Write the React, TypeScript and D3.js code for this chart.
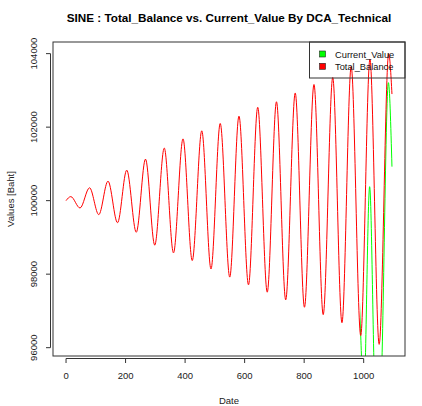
import React from "react";
import * as d3 from "d3";

// Extrema of the Total_Balance curve (date, value)
const dates = [0, 16, 47, 79, 110, 141, 173, 204, 236, 267, 298, 330, 361, 393, 424, 456, 487, 518, 550, 581, 613, 644, 676, 707, 738, 770, 801, 833, 864, 896, 927, 958, 990, 1021, 1052, 1084, 1095];
const totalBalance = [100000, 100110, 99800, 100350, 99620, 100530, 99400, 100830, 99140, 101130, 98790, 101430, 98580, 101680, 98370, 101900, 98140, 102100, 97920, 102300, 97710, 102540, 97510, 102690, 97300, 102930, 97100, 103160, 96900, 103350, 96680, 103650, 96330, 103850, 96090, 104000, 102900];

// Current_Value follows Total_Balance until ~day 990, then diverges
const currentTailDates = [1000, 1020, 1040, 1055, 1083, 1095];
const currentTailValues = [94500, 100380, 94500, 94500, 103210, 100925];
const currentDates = dates.slice(0, 33).concat(currentTailDates);
const currentValue = totalBalance.slice(0, 33).concat(currentTailValues);
const divergeDate = 988;

const xTicks = [0, 200, 400, 600, 800, 1000];
const yTicks = [96000, 98000, 100000, 102000, 104000];

const seriesNames = ["Current_Value", "Total_Balance"];
const seriesColors = ["#00FF00", "#FF0000"];

const W = 422, H = 406;
const plot = { left: 53, top: 42, right: 405, bottom: 356 };
const FONT = "'Liberation Sans', Arial, Helvetica, sans-serif";

export default function App() {
  const xExt = d3.extent(dates) as [number, number];
  const yExt = d3.extent(totalBalance) as [number, number];
  const xPad = (xExt[1] - xExt[0]) * 0.04;
  const yPad = (yExt[1] - yExt[0]) * 0.04;
  const x = d3.scaleLinear().domain([xExt[0] - xPad, xExt[1] + xPad]).range([plot.left, plot.right]);
  const y = d3.scaleLinear().domain([yExt[0] - yPad, yExt[1] + yPad]).range([plot.bottom, plot.top]);

  const line = d3
    .line<[number, number]>()
    .x((d) => x(d[0]))
    .y((d) => y(d[1]))
    .curve(d3.curveMonotoneX);

  const redPath = line(dates.map((d, i) => [d, totalBalance[i]] as [number, number])) || "";
  const greenPath = line(currentDates.map((d, i) => [d, currentValue[i]] as [number, number])) || "";

  const axY = plot.bottom + 2.5;
  const axX = plot.left - 2.5;
  const gx = x(divergeDate);

  return (
    <svg width={W} height={H} style={{ position: "absolute", left: 0, top: 0, background: "#fff" }} fontFamily={FONT}>
      <defs>
        <clipPath id="plotclip">
          <rect x={plot.left} y={plot.top} width={plot.right - plot.left} height={plot.bottom - plot.top} />
        </clipPath>
        {/* green is hidden beneath red wherever they coincide */}
        <clipPath id="greenclip">
          <rect x={gx} y={plot.top} width={plot.right - gx} height={plot.bottom - plot.top} />
        </clipPath>
      </defs>
      <rect x={0} y={0} width={W} height={H} fill="#fff" />
      <text x={(plot.left + plot.right) / 2} y={21.5} textAnchor="middle" fontSize={11.7} fontWeight="bold" fill="#000">
        SINE : Total_Balance vs. Current_Value By DCA_Technical
      </text>

      <g clipPath="url(#plotclip)">
        <g clipPath="url(#greenclip)">
          <path d={greenPath} fill="none" stroke={seriesColors[0]} strokeWidth={1} />
        </g>
        <path d={redPath} fill="none" stroke={seriesColors[1]} strokeWidth={1} />
      </g>

      <rect x={plot.left} y={plot.top} width={plot.right - plot.left} height={plot.bottom - plot.top} fill="none" stroke="#333" strokeWidth={1} />

      {/* x axis */}
      <line x1={x(xTicks[0])} x2={x(xTicks[xTicks.length - 1])} y1={axY} y2={axY} stroke="#333" />
      {xTicks.map((t) => (
        <g key={t}>
          <line x1={x(t)} x2={x(t)} y1={axY} y2={axY + 4.5} stroke="#333" />
          <text x={x(t)} y={379} textAnchor="middle" fontSize={9.5} fill="#222">{t}</text>
        </g>
      ))}
      <text x={(plot.left + plot.right) / 2} y={403.5} textAnchor="middle" fontSize={9.5} fill="#222">Date</text>

      {/* y axis */}
      <line x1={axX} x2={axX} y1={y(yTicks[0])} y2={y(yTicks[yTicks.length - 1])} stroke="#333" />
      {yTicks.map((t) => (
        <g key={t}>
          <line x1={axX} x2={axX - 4.5} y1={y(t)} y2={y(t)} stroke="#333" />
          <text transform={`translate(36.5,${y(t)}) rotate(-90)`} textAnchor="middle" fontSize={9.5} fill="#222">{t}</text>
        </g>
      ))}
      <text transform={`translate(14,${(plot.top + plot.bottom) / 2}) rotate(-90)`} textAnchor="middle" fontSize={9.5} fill="#222">Values [Baht]</text>

      {/* legend */}
      <rect x={309.5} y={plot.top} width={plot.right - 309.5} height={36} fill="none" stroke="#333" strokeWidth={1} />
      {seriesNames.map((n, i) => (
        <g key={n}>
          <rect x={319.5} y={51 + i * 12.3} width={6} height={6} fill={seriesColors[i]} stroke="#222" strokeWidth={0.6} />
          <text x={335} y={57.5 + i * 12.3} fontSize={9.3} fill="#111">{n}</text>
        </g>
      ))}
    </svg>
  );
}
